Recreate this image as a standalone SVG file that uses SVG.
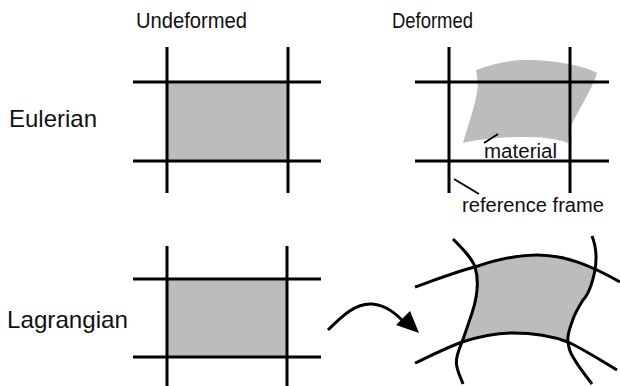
<svg xmlns="http://www.w3.org/2000/svg" width="620" height="386" viewBox="0 0 620 386">
<style>
.ln{stroke:#000;stroke-width:3;fill:none;stroke-linecap:butt}
.thin{stroke:#000;stroke-width:2;fill:none}
.gray{fill:#bcbcbc;stroke:none}
.lbl{font-family:"Liberation Sans",Arial,sans-serif;fill:#111}
</style>
<rect width="620" height="386" fill="#fff"/>
<g id="labels">
<text class="lbl" x="136" y="28" font-size="22" textLength="111" lengthAdjust="spacingAndGlyphs">Undeformed</text>
<text class="lbl" x="392" y="28" font-size="22" textLength="81" lengthAdjust="spacingAndGlyphs">Deformed</text>
<text class="lbl" x="9" y="127" font-size="24" textLength="88" lengthAdjust="spacingAndGlyphs">Eulerian</text>
<text class="lbl" x="7" y="328" font-size="24" textLength="121" lengthAdjust="spacingAndGlyphs">Lagrangian</text>
</g>
<g id="eulerian-undeformed">
<rect class="gray" x="167" y="82" width="121" height="79"/>
<line class="ln" x1="167" y1="47" x2="167" y2="193"/>
<line class="ln" x1="288" y1="47" x2="288" y2="193"/>
<line class="ln" x1="133" y1="82" x2="321" y2="82"/>
<line class="ln" x1="133" y1="161" x2="321" y2="161"/>
</g>
<g id="eulerian-deformed">
<path class="gray" d="M476,70 C495,63 512,60 527,60 C550,60 580,64 597,73 C592,90 578,110 570,128 L568,143 C555,138 540,137 525,137 C505,137 480,139 463,143 C467,128 476,105 478,85 Z"/>
<line class="ln" x1="449" y1="47" x2="449" y2="193"/>
<line class="ln" x1="570" y1="47" x2="570" y2="193"/>
<line class="ln" x1="415" y1="82" x2="609" y2="82"/>
<line class="ln" x1="415" y1="161" x2="609" y2="161"/>
<line class="thin" x1="484" y1="143" x2="498" y2="134"/>
<line class="thin" x1="454" y1="179" x2="479" y2="194"/>
<text class="lbl" x="484" y="158" font-size="20" textLength="73" lengthAdjust="spacingAndGlyphs">material</text>
<text class="lbl" x="462" y="212" font-size="20" textLength="142" lengthAdjust="spacingAndGlyphs">reference frame</text>
</g>
<g id="lagrangian-undeformed">
<rect class="gray" x="167" y="279" width="120" height="78"/>
<line class="ln" x1="167" y1="246" x2="167" y2="386"/>
<line class="ln" x1="287" y1="246" x2="287" y2="386"/>
<line class="ln" x1="133" y1="279" x2="321" y2="279"/>
<line class="ln" x1="133" y1="357" x2="321" y2="357"/>
</g>
<g id="lagrangian-deformed">
<path class="gray" d="M475,267 C495,260 515,255 537,255 C560,255 580,261 595,270 C592,282 588,292 583,300 C578,308 572,315 572,322 L568,342 C550,336 532,333 513,333 C495,333 478,337 462,342 C466,332 469,322 472,313 C476,300 478,290 478,280 Z"/>
<path class="ln" d="M415,287 C435,280 455,272 475,267 C495,260 515,255 537,255 C565,255 590,265 620,282"/>
<path class="ln" d="M415,363 C430,356 446,348 462,342 C478,337 495,333 513,333 C535,333 552,336 568,342 C585,350 600,360 617,370"/>
<path class="ln" d="M453,239 C462,248 472,258 475,267 C479,280 478,295 472,313 C468,325 465,334 462,342 C458,352 455,360 457,367 C458,373 461,378 463,384"/>
<path class="ln" d="M592,236 C596,246 597,258 595,270 C592,285 587,296 583,300 C578,308 574,315 572,322 C569,330 567,336 568,342 C569,350 571,354 573,357 C578,366 585,375 592,384"/>
</g>
<g id="connectors">
<path class="ln" d="M328,330 C343,315 356,303 372,304 C387,305 397,315 405,323"/>
<polygon points="419,333 396,325 410,311" fill="#000"/>
</g>
</svg>
